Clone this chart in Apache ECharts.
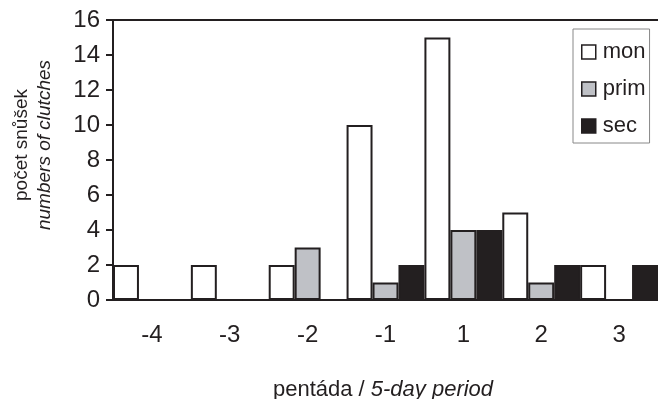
<!DOCTYPE html>
<html>
<head>
<meta charset="utf-8">
<script src="https://cdn.jsdelivr.net/npm/echarts@6/dist/echarts.min.js"></script>
<style>html,body{margin:0;padding:0;background:#fff}#c{width:658px;height:399px}</style>
</head>
<body>
<div id="c"></div>
<script>
var categories = ['-4', '-3', '-2', '-1', '1', '2', '3'];
var monValues = [2, 2, 2, 10, 15, 5, 2];
var primValues = [0, 0, 3, 1, 4, 1, 0];
var secValues = [0, 0, 0, 2, 4, 2, 2];
var seriesNames = ['mon', 'prim', 'sec'];
var yTitle1 = 'počet snůšek';
var yTitle2 = 'numbers of clutches';
var xTitle1 = 'pentáda / ';
var xTitle2 = '5-day period';

var FONT = '"Liberation Sans", Arial, Helvetica, sans-serif';
var INK = '#231f20';
var chart = echarts.init(document.getElementById('c'), null, {renderer: 'canvas'});
function bar(name, data, color) {
  return {
    name: name, type: 'bar', data: data,
    barGap: 0, barCategoryGap: 0,
    itemStyle: {color: color, borderColor: INK, borderWidth: 2},
    emphasis: {disabled: true}
  };
}
chart.setOption({
  animation: false,
  textStyle: {fontFamily: FONT},
  grid: {left: 113, top: 20, width: 546, height: 280},
  xAxis: [{
    type: 'category', data: categories, position: 'bottom',
    axisLine: {lineStyle: {color: INK, width: 2}},
    axisTick: {show: false},
    axisLabel: {fontSize: 24, color: INK, margin: 23, fontFamily: FONT}
  }, {
    type: 'category', data: categories, position: 'top',
    axisLine: {show: true, lineStyle: {color: INK, width: 2}},
    axisTick: {show: false}, axisLabel: {show: false}
  }],
  yAxis: {
    type: 'value', min: 0, max: 16, interval: 2,
    axisLine: {show: true, lineStyle: {color: INK, width: 2}},
    axisTick: {show: true, length: 7, lineStyle: {color: INK, width: 2}},
    splitLine: {show: false},
    axisLabel: {fontSize: 24, color: INK, margin: 13, fontFamily: FONT}
  },
  legend: {
    orient: 'vertical', left: 573, top: 29,
    data: seriesNames,
    borderColor: '#888', borderWidth: 1,
    padding: [12, 4, 6, 8],
    itemWidth: 14, itemHeight: 14, itemGap: 15, icon: 'rect',
    itemStyle: {borderWidth: 1.5, borderColor: INK},
    textStyle: {fontSize: 22, color: INK, fontFamily: FONT, padding: [0, 0, 0, 2]}
  },
  graphic: [{
    type: 'text', x: 33, y: 145, rotation: Math.PI / 2,
    style: {
      text: '{a|' + yTitle1 + '}\n{b|' + yTitle2 + '}',
      align: 'center', verticalAlign: 'middle',
      rich: {
        a: {fontSize: 19, fontFamily: FONT, fill: INK, lineHeight: 23},
        b: {fontSize: 19, fontFamily: FONT, fontStyle: 'italic', fill: INK, lineHeight: 23}
      }
    }
  }, {
    type: 'text', x: 383, y: 390,
    style: {
      text: '{a|' + xTitle1 + '}{b|' + xTitle2 + '}',
      align: 'center', verticalAlign: 'middle',
      rich: {
        a: {fontSize: 22, fontFamily: FONT, fill: INK},
        b: {fontSize: 22, fontFamily: FONT, fontStyle: 'italic', fill: INK}
      }
    }
  }],
  series: [
    bar(seriesNames[0], monValues, '#ffffff'),
    bar(seriesNames[1], primValues, '#bfc1c6'),
    bar(seriesNames[2], secValues, INK)
  ]
});
</script>
</body>
</html>
